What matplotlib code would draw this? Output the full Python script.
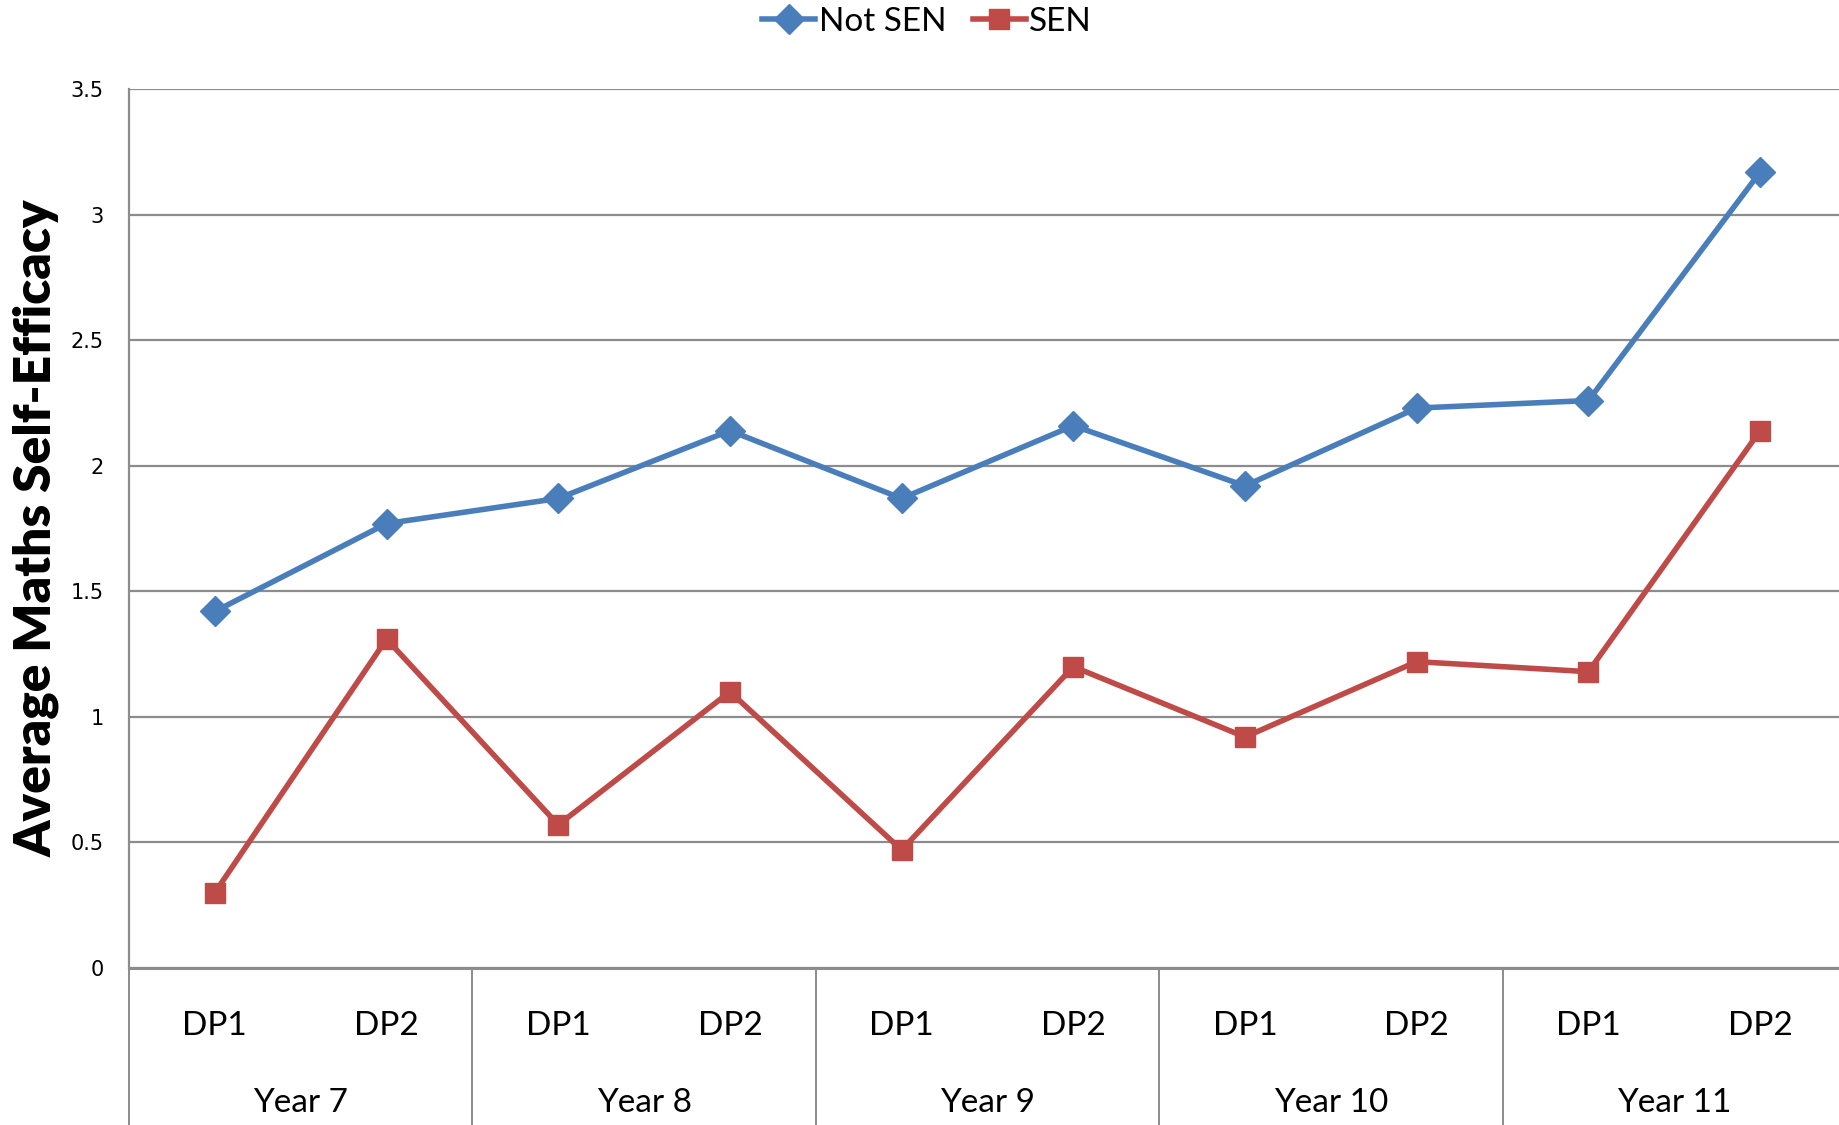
import matplotlib.pyplot as plt
from matplotlib.lines import Line2D

years = ["Year 7", "Year 8", "Year 9", "Year 10", "Year 11"]
points = ["DP1", "DP2"]
not_sen = [1.42, 1.77, 1.87, 2.14, 1.87, 2.16, 1.92, 2.23, 2.26, 3.17]
sen = [0.30, 1.31, 0.57, 1.10, 0.47, 1.20, 0.92, 1.22, 1.18, 2.14]

blue = "#4A7EBB"
red = "#BE4B48"
grid = "#8C8C8C"
font = "Lato"

fig = plt.figure(figsize=(18.4, 11.25), dpi=100)
ax = fig.add_axes([129 / 1840, 0.1396, 1717 / 1840, 0.7811])

x = list(range(len(not_sen)))
ax.plot(x, not_sen, color=blue, lw=4.0, marker="D", ms=15, label="Not SEN")
ax.plot(x, sen, color=red, lw=4.0, marker="s", ms=14, label="SEN")

ax.set_xlim(-0.5, 9.5)
ax.set_ylim(0, 3.5)
ax.set_yticks([0, 0.5, 1, 1.5, 2, 2.5, 3, 3.5])
ax.set_yticklabels(["0", "0.5", "1", "1.5", "2", "2.5", "3", "3.5"],
                   fontsize=15, family="DejaVu Sans")
ax.tick_params(axis="y", length=0, pad=18)
ax.grid(axis="y", color=grid, lw=1.6)
ax.set_axisbelow(True)
for s in ["top", "right"]:
    ax.spines[s].set_visible(False)
ax.spines["left"].set_color(grid)
ax.spines["left"].set_linewidth(1.6)
ax.spines["bottom"].set_color(grid)
ax.spines["bottom"].set_linewidth(2.2)

# two-level category axis: DP labels, then year groups with separators
ax.set_xticks(x)
ax.set_xticklabels(points * len(years), fontsize=24, family=font)
ax.tick_params(axis="x", length=0, pad=31)
trans = ax.get_xaxis_transform()
for i, yr in enumerate(years):
    ax.text(2 * i + 0.5, -0.154, yr, transform=trans, ha="center",
            va="center", fontsize=24, family=font)
for b in [-0.5, 1.5, 3.5, 5.5, 7.5]:
    ax.add_line(Line2D([b, b], [0, -0.25], transform=trans, color=grid,
                       lw=1.4, clip_on=False))

ax.set_ylabel("Average Maths Self-Efficacy", fontsize=37, family=font,
              fontweight="heavy", va="center")
ax.yaxis.set_label_coords(-0.054, 0.5)

ax.legend(loc="center", bbox_to_anchor=(927 / 1840, 1 - 22 / 1125),
          bbox_transform=fig.transFigure, ncol=2, frameon=False,
          prop={"family": font, "size": 24}, handlelength=1.6,
          handletextpad=0.1, columnspacing=0.8)

fig.savefig("out.png", dpi=100)
